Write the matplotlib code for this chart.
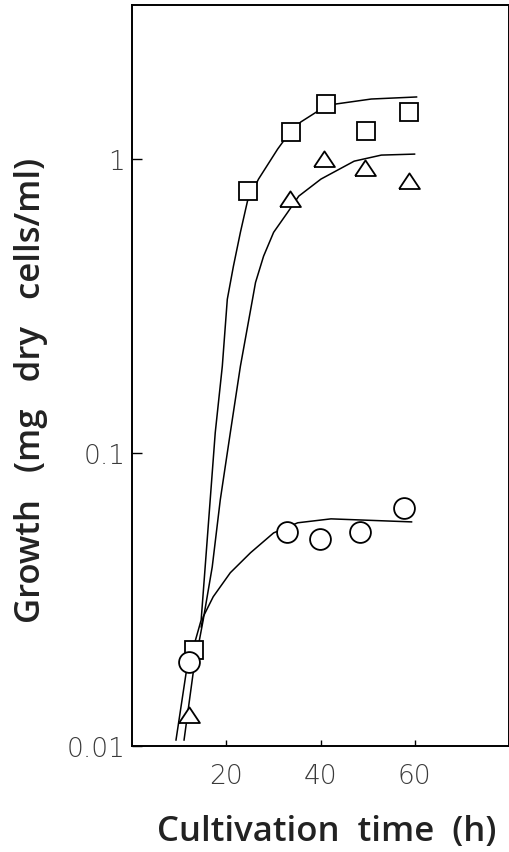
import matplotlib
matplotlib.use("Agg")
import matplotlib.pyplot as plt
from matplotlib.ticker import NullLocator

# data points
square_x = [13.2, 24.7, 33.7, 41.2, 49.7, 58.7]
square_y = [0.0213, 0.78, 1.24, 1.54, 1.25, 1.45]

triangle_x = [12.1, 33.5, 40.7, 49.5, 58.7]
triangle_y = [0.0128, 0.73, 1.0, 0.93, 0.84]

circle_x = [12.1, 32.8, 39.9, 48.4, 57.8]
circle_y = [0.0194, 0.0537, 0.0508, 0.0537, 0.0649]

# fitted curves
square_curve_x = [9.32, 11.45, 14.66, 15.51, 16.58, 17.65, 19.15, 20.21, 21.50,
                  22.99, 24.49, 26.84, 30.90, 33.68, 35.81, 41.15, 43.29,
                  50.77, 60.38]
square_curve_y = [0.0105, 0.0177, 0.0269, 0.0408, 0.0691, 0.117, 0.197, 0.333,
                  0.431, 0.563, 0.719, 0.855, 1.082, 1.246, 1.338, 1.517,
                  1.541, 1.602, 1.628]

triangle_curve_x = [11.03, 12.95, 15.09, 17.01, 18.72, 20.85, 22.99, 25.56,
                    26.20, 27.91, 30.04, 33.03, 35.38, 40.09, 47.14, 52.91,
                    59.96]
triangle_curve_y = [0.0105, 0.0177, 0.0269, 0.0408, 0.0691, 0.117, 0.197,
                    0.333, 0.380, 0.467, 0.563, 0.659, 0.748, 0.855, 0.984,
                    1.032, 1.040]

circle_curve_x = [14.66, 15.09, 17.22, 20.85, 25.13, 30.04, 35.17, 42.22, 59.32]
circle_curve_y = [0.0255, 0.0276, 0.0323, 0.0390, 0.0456, 0.0533, 0.0577,
                  0.0595, 0.0581]

y_ticks = [0.01, 0.1, 1]
y_tick_labels = ["0.01", "0.1", "1"]
x_ticks = [20, 40, 60]
x_tick_labels = ["20", "40", "60"]

####################################################################
# FIGURE
####################################################################

fig = plt.figure(figsize=(5.1, 8.53), dpi=100)
ax = fig.add_axes([0.259, 0.124, 0.739, 0.869])

line_kw = dict(color="black", linewidth=1.1, solid_joinstyle="round")
ax.plot(square_curve_x, square_curve_y, **line_kw)
ax.plot(triangle_curve_x, triangle_curve_y, **line_kw)
ax.plot(circle_curve_x, circle_curve_y, **line_kw)

marker_kw = dict(linestyle="none", markerfacecolor="white",
                 markeredgecolor="black", markeredgewidth=1.3, zorder=3)
tri_marker = [(-1, -0.72), (1, -0.72), (0, 0.78), (-1, -0.72)]
ax.plot(square_x, square_y, marker="s", markersize=13, **marker_kw)
ax.plot(triangle_x, triangle_y, marker=tri_marker, markersize=15, **marker_kw)
ax.plot(circle_x, circle_y, marker="o", markersize=15, **marker_kw)

ax.set_yscale("log")
ax.set_xlim(0, 80)
ax.set_ylim(0.01, 3.35)

ax.yaxis.set_minor_locator(NullLocator())
ax.set_yticks(y_ticks)
ax.set_yticklabels(y_tick_labels)
ax.set_xticks(x_ticks)
ax.set_xticklabels(x_tick_labels)

ax.tick_params(axis="y", direction="in", length=7, width=1.0, pad=5)
ax.tick_params(axis="x", direction="in", length=4, width=1.0, pad=12)

for label in ax.get_xticklabels() + ax.get_yticklabels():
    label.set_fontfamily("DejaVu Sans")
    label.set_fontweight("light")
    label.set_fontsize(19)
    label.set_color("#3a3a3a")

for spine in ax.spines.values():
    spine.set_linewidth(1.4)

ax.set_xlabel("Cultivation  time  (h)", fontsize=25, fontfamily="Open Sans",
              fontweight="semibold", color="#222222")
ax.set_ylabel("Growth   (mg   dry   cells/ml)", fontsize=25,
              fontfamily="Open Sans", fontweight="semibold", color="#222222")
ax.xaxis.set_label_coords(0.515, -0.092)
ax.yaxis.set_label_coords(-0.222, 0.482)

fig.savefig("out.png", dpi=100, facecolor="white")
